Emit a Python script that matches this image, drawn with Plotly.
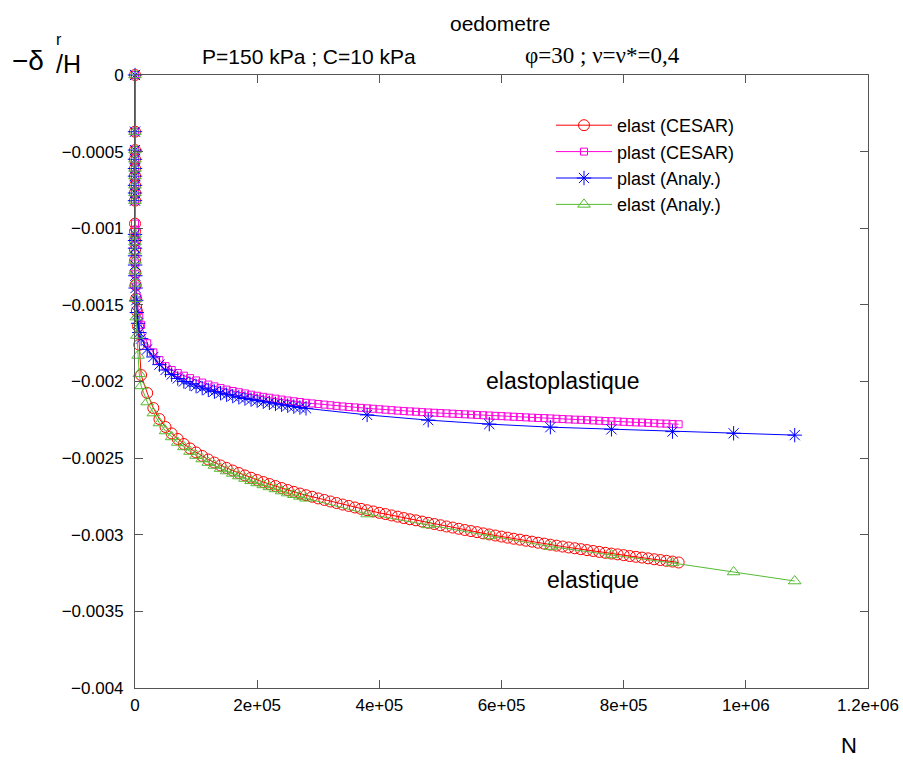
import plotly.graph_objects as go

# ---------------- data ----------------
# N values (cycles). Early points sit at N ~ 0 on this scale.
early_N = [0, 1, 2, 3, 4, 5, 6, 7, 8, 10, 20, 50, 100, 200, 500, 1000, 2000, 3000, 5000, 7000]
cesar_N_k = [10, 20, 30, 40, 50, 60, 70, 80, 90, 100, 110, 120, 130, 140, 150, 160, 170, 180, 190, 200,
             210, 220, 230, 240, 250, 260, 270, 280, 290, 300, 310, 320, 330, 340, 350, 360, 370, 380, 390, 400,
             410, 420, 430, 440, 450, 460, 470, 480, 490, 500, 510, 520, 530, 540, 550, 560, 570, 580, 590, 600,
             610, 620, 630, 640, 650, 660, 670, 680, 690, 700, 710, 720, 730, 740, 750, 760, 770, 780, 790, 800,
             810, 820, 830, 840, 850, 860, 870, 880, 890]
analy_N_k = [10, 20, 30, 40, 50, 60, 70, 80, 90, 100, 110, 120, 130, 140, 150, 160, 170, 180, 190, 200,
             210, 220, 230, 240, 250, 260, 270, 280, 380, 480, 580, 680, 780, 880, 980, 1080]

elast_cesar_early = [0, -0.00037, -0.00049, -0.00055, -0.00061, -0.00066, -0.00072, -0.00077, -0.00082,
                     -0.00097, -0.00102, -0.00108, -0.00114, -0.00121, -0.00129, -0.00137, -0.00146, -0.00154,
                     -0.00164, -0.00176]
elast_cesar = [-0.001958, -0.002075, -0.002173, -0.002245, -0.002297, -0.002339, -0.002375, -0.002408, -0.002437, -0.002463,
               -0.002486, -0.002509, -0.002529, -0.002548, -0.002564, -0.002581, -0.002597, -0.002613, -0.002628, -0.002643,
               -0.002656, -0.002669, -0.002682, -0.002695, -0.002708, -0.00272, -0.002731, -0.002742, -0.002752, -0.002763,
               -0.002773, -0.002783, -0.002793, -0.002803, -0.002812, -0.002822, -0.002831, -0.00284, -0.002848, -0.002857,
               -0.002865, -0.002874, -0.002882, -0.002891, -0.002899, -0.002906, -0.002914, -0.002922, -0.00293, -0.002938,
               -0.002946, -0.002953, -0.002961, -0.002969, -0.002976, -0.002983, -0.002991, -0.002998, -0.003005, -0.003012,
               -0.003019, -0.003026, -0.003032, -0.003039, -0.003045, -0.003052, -0.003058, -0.003065, -0.003071, -0.003077,
               -0.003083, -0.003088, -0.003094, -0.0031, -0.003106, -0.003112, -0.003118, -0.003123, -0.003128, -0.003133,
               -0.003139, -0.003144, -0.003149, -0.003154, -0.00316, -0.003165, -0.00317, -0.003175, -0.003181]

plast_cesar_early = [0, -0.00037, -0.00049, -0.00055, -0.00061, -0.00066, -0.00072, -0.00077, -0.00082,
                     -0.00097, -0.00101, -0.00106, -0.00111, -0.00117, -0.00123, -0.0013, -0.00138, -0.00145,
                     -0.00152, -0.00158]
plast_cesar = [-0.00163, -0.00175, -0.00181, -0.00186, -0.0019, -0.001925, -0.001945, -0.001962, -0.001978, -0.001993,
               -0.002007, -0.00202, -0.002032, -0.002043, -0.002053, -0.002062, -0.00207, -0.002078, -0.002086, -0.002093,
               -0.0021, -0.002106, -0.002112, -0.002118, -0.002124, -0.002129, -0.002134, -0.002139, -0.002143, -0.002147,
               -0.002151, -0.002155, -0.002159, -0.002163, -0.002166, -0.002169, -0.002172, -0.002175, -0.002178, -0.002181,
               -0.002184, -0.002187, -0.00219, -0.002193, -0.002195, -0.002197, -0.0022, -0.002202, -0.002204, -0.002206,
               -0.002208, -0.00221, -0.002212, -0.002214, -0.002216, -0.002218, -0.00222, -0.002222, -0.002224, -0.002226,
               -0.002228, -0.00223, -0.002232, -0.002234, -0.002236, -0.002238, -0.002239, -0.002241, -0.002243, -0.002245,
               -0.002247, -0.002249, -0.00225, -0.002252, -0.002254, -0.002256, -0.002258, -0.002259, -0.002261, -0.002263,
               -0.002265, -0.002267, -0.002268, -0.00227, -0.002272, -0.002274, -0.002275, -0.002277, -0.002279]

plast_analy_early = [0, -0.00037, -0.00049, -0.00055, -0.00061, -0.00066, -0.00072, -0.00077, -0.00082,
                     -0.00104, -0.00108, -0.00113, -0.00118, -0.00124, -0.00131, -0.00139, -0.00147, -0.00155,
                     -0.00162, -0.00168]
plast_analy = [-0.00172, -0.00179, -0.00184, -0.00189, -0.001925, -0.001955, -0.00198, -0.002, -0.002015, -0.00203,
               -0.002043, -0.002055, -0.002066, -0.002076, -0.002086, -0.002095, -0.002103, -0.002111, -0.002118, -0.002125,
               -0.002132, -0.002139, -0.002146, -0.002152, -0.002158, -0.002164, -0.00217, -0.002175,
               -0.002218, -0.002252, -0.002278, -0.002298, -0.002312, -0.002327, -0.002338, -0.00235]

elast_analy_early = [0, -0.00037, -0.00049, -0.00055, -0.00061, -0.00066, -0.00072, -0.00077, -0.00082,
                     -0.00104, -0.00109, -0.00115, -0.00121, -0.00128, -0.00136, -0.00146, -0.00158, -0.0017,
                     -0.00183, -0.00195]
elast_analy = [-0.002029, -0.002134, -0.002206, -0.002271, -0.002323, -0.002362, -0.002398, -0.002427, -0.002457, -0.002483,
               -0.002506, -0.002529, -0.002548, -0.002568, -0.002584, -0.0026, -0.002617, -0.002633, -0.002648, -0.002662,
               -0.002675, -0.002688, -0.002701, -0.002715, -0.002728, -0.002739, -0.00275, -0.002762,
               -0.002865, -0.002936, -0.003008, -0.003077, -0.003132, -0.003184, -0.003243, -0.003302]

x_tickvals = [0, 200000, 400000, 600000, 800000, 1000000, 1200000]
x_ticktext = ["0", "2e+05", "4e+05", "6e+05", "8e+05", "1e+06", "1.2e+06"]
y_tickvals = [0, -0.0005, -0.001, -0.0015, -0.002, -0.0025, -0.003, -0.0035, -0.004]
y_ticktext = ["0", "\u22120.0005", "\u22120.001", "\u22120.0015", "\u22120.002", "\u22120.0025",
              "\u22120.003", "\u22120.0035", "\u22120.004"]

# ---------------- figure ----------------
cesar_N = early_N + [k * 1000 for k in cesar_N_k]
analy_N = early_N + [k * 1000 for k in analy_N_k]

FONT = "Liberation Sans, Arial, Helvetica, sans-serif"
AX = "#555555"

fig = go.Figure()
series = [
    ("elast (CESAR)", cesar_N, elast_cesar_early + elast_cesar, "#ff0000", "circle-open", 11),
    ("plast (CESAR)", cesar_N, plast_cesar_early + plast_cesar, "#ff00dd", "square-open", 7),
    ("plast (Analy.)", analy_N, plast_analy_early + plast_analy, "#0000ff", "asterisk-open", 12),
    ("elast (Analy.)", analy_N, elast_analy_early + elast_analy, "#55bb33", "triangle-up-open", 11),
]
for name, xs, ys, col, sym, sz in series:
    fig.add_trace(go.Scatter(
        x=xs, y=ys, name=name, mode="lines+markers", cliponaxis=False,
        line=dict(color=col, width=1),
        marker=dict(symbol=sym, size=sz, color=col, line=dict(color=col, width=1)),
    ))

axis_common = dict(showgrid=False, zeroline=False, showline=True, linecolor=AX, linewidth=1,
                   ticks="inside", ticklen=8, tickcolor=AX, mirror="allticks", automargin=False)
fig.update_xaxes(range=[0, 1200000], tickvals=x_tickvals, ticktext=x_ticktext,
                 ticklabelstandoff=2, tickfont=dict(family=FONT, size=17, color="black"),
                 **axis_common)
fig.update_yaxes(range=[-0.004, 0], tickvals=y_tickvals, ticktext=y_ticktext,
                 ticklabelstandoff=7, tickfont=dict(family=FONT, size=17, color="black"),
                 **axis_common)

# the page's body margin is removed (post_script below), so the figure fills the window
W, H = 903, 765
PL, PR, PT, PB = 135, 868, 75, 688          # plot area on the page
L, T, R, B = PL, PT, W - PR, H - PB
pw, ph = PR - PL, PB - PT


def px(x):
    return (x - PL) / pw


def py(y):
    return 1 - (y - PT) / ph


def ann(text, x, y, size, family=FONT):
    fig.add_annotation(text=text, x=px(x), y=py(y), xref="paper", yref="paper",
                       showarrow=False, xanchor="center", yanchor="middle",
                       font=dict(family=family, size=size, color="black"))


ann("oedometre", 500, 24, 21)
ann("P=150 kPa ; C=10 kPa", 309, 56, 21)
ann("\u03c6=30 ; \u03bd=\u03bd*=0,4", 602, 55, 23, "Liberation Serif, Times New Roman, serif")
ann("elastoplastique", 562, 381, 23)
ann("elastique", 593, 580, 23)
ann("N", 849, 745, 22)
ann("\u2212\u03b4", 28, 61, 28)
ann("r", 59, 39, 16)
ann("/H", 68, 64, 25)

fig.update_layout(
    width=W, height=H,
    margin=dict(l=L, r=R, t=T, b=B),
    paper_bgcolor="white", plot_bgcolor="white",
    font=dict(family=FONT, color="black"),
    showlegend=True,
    legend=dict(x=px(551), y=py(107), xanchor="left", yanchor="top",
                bgcolor="rgba(0,0,0,0)", borderwidth=0, itemwidth=56,
                font=dict(family=FONT, size=18, color="black"), tracegroupgap=0),
)

fig.write_html("out.html", config={"displayModeBar": False},
               post_script="document.body.style.margin='0';document.body.style.overflow='hidden';")
